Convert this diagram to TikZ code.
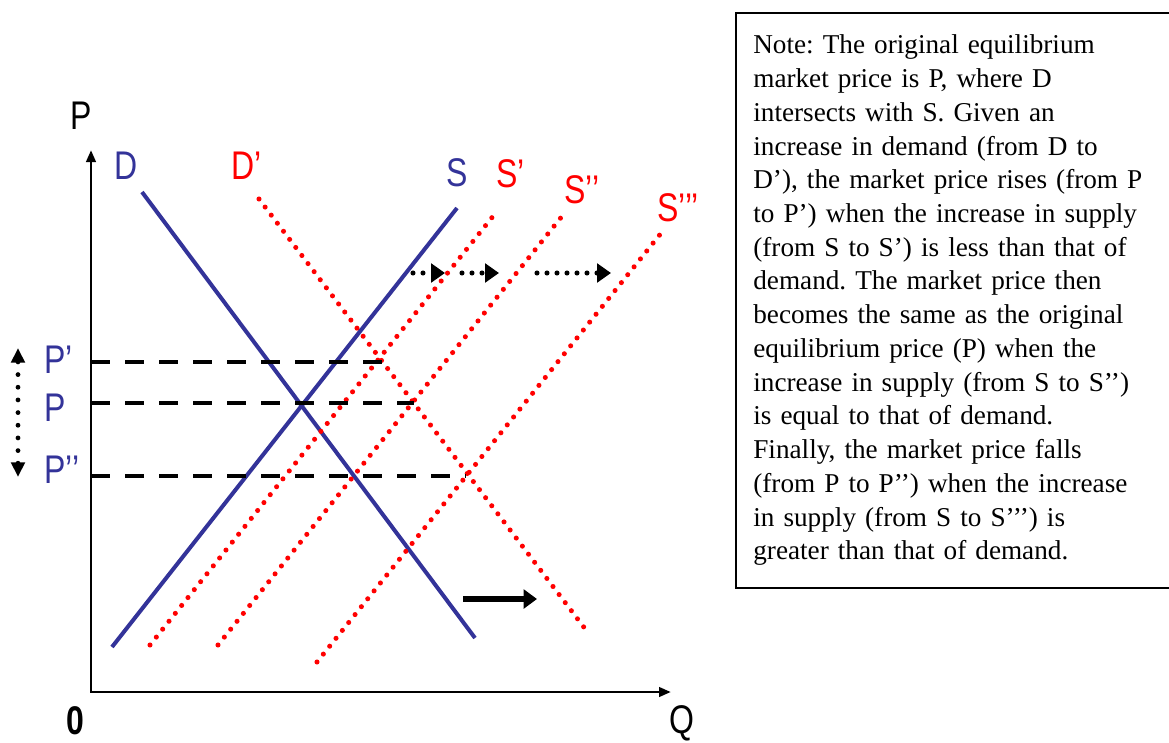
\documentclass[tikz,border=0pt]{standalone}
\usepackage{fontspec}
\setmainfont{Liberation Serif}
\newfontfamily\narrowsans[FakeStretch=0.8]{Liberation Sans}
\usetikzlibrary{arrows.meta,positioning}
\definecolor{curveblue}{RGB}{51,51,153}
\definecolor{curvered}{RGB}{255,0,0}
\tikzset{
  axis/.style={line width=2.2pt,line join=miter,
    {Triangle[length=9pt,width=7pt]}-{Triangle[length=9pt,width=7pt]}},
  oldcurve/.style={draw=curveblue,line width=3pt},
  newcurve/.style={draw=curvered,line width=3.8pt,line cap=round,dash pattern=on 0pt off 7.6pt},
  pricedash/.style={line width=3.4pt,dash pattern=on 14.5pt off 11pt},
  shiftarrow/.style={line width=4.5pt,-{Triangle[length=10pt,width=14pt]}},
  dotarrow/.style={line width=3.8pt,line cap=round,dash pattern=on 0pt off 7.5pt,
    -{Triangle[length=10.5pt,width=14pt]}},
  updown/.style={line width=3.6pt,line cap=round,dash pattern=on 0pt off 9.5pt,
    {Triangle[length=11pt,width=10pt]}-{Triangle[length=11pt,width=10pt]}},
  curvelabel/.style={font=\narrowsans\fontsize{30}{32}\selectfont,inner sep=0pt,anchor=base west},
  bluelabel/.style={curvelabel,text=curveblue},
  redlabel/.style={curvelabel,text=curvered},
  notebox/.style={draw,line width=1.5pt,anchor=north west,align=left,text width=315pt,
    minimum height=431pt,inner xsep=13pt,font=\fontsize{20.4}{25.3}\selectfont}
}

\begin{document}
\frenchspacing
\begin{tikzpicture}[x=0.75pt,y=-0.75pt]
  \useasboundingbox (0,0) rectangle (1169,742);
  \clip (0,0) rectangle (1169,742);
  % axes
  \coordinate (o) at (91,692);
  \coordinate (ytop) at (91,150);
  \coordinate (xend) at (671,692);
  \draw[axis] (ytop) -- (o) -- (xend);
  \node[curvelabel] (plab) at (70,129) {P};
  \node[curvelabel] (qlab) at (669,733) {Q};
  \node[curvelabel,font=\narrowsans\bfseries\fontsize{30}{32}\selectfont] (zero) at (66,734) {0};
  % original curves
  \coordinate (d1) at (142,192); \coordinate (d2) at (475,638);
  \coordinate (s1) at (112,647); \coordinate (s2) at (457,208);
  \draw[oldcurve] (d1) -- (d2);
  \draw[oldcurve] (s1) -- (s2);
  \node[bluelabel] (dlab) at (114,179) {D};
  \node[bluelabel] (slab) at (446,186) {S};
  % shifted curves
  \coordinate (dd1) at (259,199); \coordinate (dd2) at (586,630);
  \coordinate (sa1) at (150,645); \coordinate (sa2) at (494,215);
  \coordinate (sb1) at (218,645); \coordinate (sb2) at (563,215);
  \coordinate (sc1) at (317,662); \coordinate (sc2) at (662,232);
  \draw[newcurve] (dd1) -- (dd2);
  \draw[newcurve] (sa1) -- (sa2);
  \draw[newcurve] (sb1) -- (sb2);
  \draw[newcurve] (sc1) -- (sc2);
  \node[redlabel] (ddlab) at (231,179) {D’};
  \node[redlabel] (salab) at (496,187) {S’};
  \node[redlabel] (sblab) at (564,203) {S’’};
  \node[redlabel] (sclab) at (657,221) {S’’’};
  % prices
  \coordinate (ea) at (383,362);
  \coordinate (eb) at (414,403);
  \coordinate (ec) at (466,476);
  \draw[pricedash] (o |- ea) -- (ea);
  \draw[pricedash] (o |- eb) -- (eb);
  \draw[pricedash] (o |- ec) -- (ec);
  \node[bluelabel] (palab) at (44,373) {P’};
  \node[bluelabel] (p0lab) at (44,421) {P};
  \node[bluelabel] (pblab) at (44,483) {P’’};
  \coordinate (up) at (18,348); \coordinate (down) at (18,477);
  \draw[updown] (down) -- (up);
  % shift arrows
  \coordinate (ha1) at (413,273); \coordinate (ha2) at (445,273);
  \coordinate (hb1) at (462,273); \coordinate (hb2) at (499,273);
  \coordinate (hc1) at (537,273); \coordinate (hc2) at (611,273);
  \draw[dotarrow] (ha1) -- (ha2);
  \draw[dotarrow] (hb1) -- (hb2);
  \draw[dotarrow] (hc1) -- (hc2);
  \coordinate (dm1) at (463,599); \coordinate (dm2) at (537,599);
  \draw[shiftarrow] (dm1) -- (dm2);
  % note
  \node[notebox] (note) at (735,12) {Note: The original equilibrium\\
    market price is P, where D\\
    intersects with S. Given an\\
    increase in demand (from D to\\
    D’), the market price rises (from P\\
    to P’) when the increase in supply\\
    (from S to S’) is less than that of\\
    demand. The market price then\\
    becomes the same as the original\\
    equilibrium price (P) when the\\
    increase in supply (from S to S’’)\\
    is equal to that of demand.\\
    Finally, the market price falls\\
    (from P to P’’) when the increase\\
    in supply (from S to S’’’) is\\
    greater than that of demand.};
\end{tikzpicture}
\end{document}
